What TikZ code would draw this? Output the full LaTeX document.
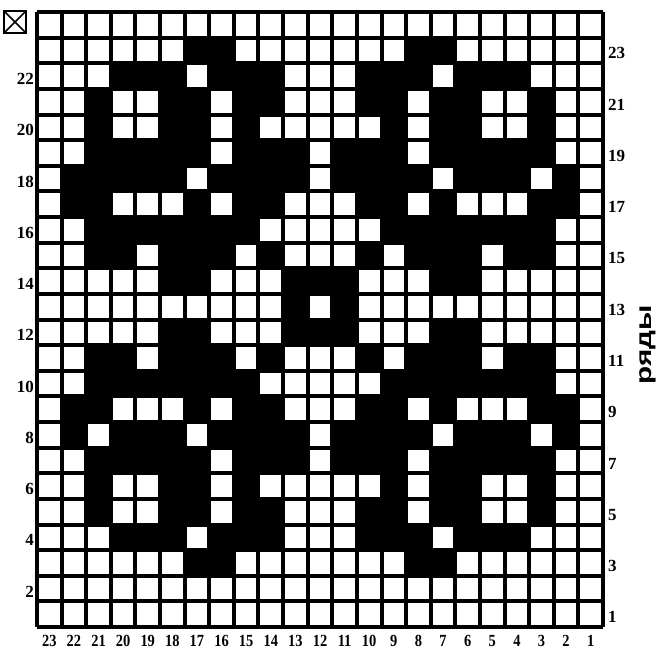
\documentclass[tikz,border=0pt]{standalone}
\usepackage{fontspec}
\setmainfont{Liberation Serif}
\newfontfamily\rowsfont{Liberation Sans}
\newcommand\gx{37}
\newcommand\gy{-12}
\newcommand\cw{24.609}
\newcommand\rh{25.625}
\newcommand\blackrow[2]{%
  \foreach \c in {#2} {%
    \fill[cellfill] ({\gx+(\c-1)*\cw},{\gy-(24-#1)*\rh}) rectangle ++(\cw,-\rh);
  }%
}
\begin{document}
\begin{tikzpicture}[x=1pt,y=1pt,
  cellfill/.style={fill=black},
  gridline/.style={line width=4pt,draw=black,line cap=square},
  lbl/.style={font=\fontsize{17}{17}\selectfont\bfseries,inner sep=0pt,text=black}]
\useasboundingbox (0,0) rectangle (662,-653);
\fill[white] (0,0) rectangle (662,-653);
% black cells (column 1 = left, row 1 = bottom)
\blackrow{23}{7,8,16,17}
\blackrow{22}{4,5,6,8,9,10,14,15,16,18,19,20}
\blackrow{21}{3,6,7,9,10,14,15,17,18,21}
\blackrow{20}{3,6,7,9,15,17,18,21}
\blackrow{19}{3,4,5,6,7,9,10,11,13,14,15,17,18,19,20,21}
\blackrow{18}{2,3,4,5,6,8,9,10,11,13,14,15,16,18,19,20,22}
\blackrow{17}{2,3,7,9,10,14,15,17,21,22}
\blackrow{16}{3,4,5,6,7,8,9,15,16,17,18,19,20,21}
\blackrow{15}{3,4,6,7,8,10,14,16,17,18,20,21}
\blackrow{14}{6,7,11,12,13,17,18}
\blackrow{13}{11,13}
\blackrow{12}{6,7,11,12,13,17,18}
\blackrow{11}{3,4,6,7,8,10,14,16,17,18,20,21}
\blackrow{10}{3,4,5,6,7,8,9,15,16,17,18,19,20,21}
\blackrow{9}{2,3,7,9,10,14,15,17,21,22}
\blackrow{8}{2,4,5,6,8,9,10,11,13,14,15,16,18,19,20,22}
\blackrow{7}{3,4,5,6,7,9,10,11,13,14,15,17,18,19,20,21}
\blackrow{6}{3,6,7,9,15,17,18,21}
\blackrow{5}{3,6,7,9,10,14,15,17,18,21}
\blackrow{4}{4,5,6,8,9,10,14,15,16,18,19,20}
\blackrow{3}{7,8,16,17}
% grid lines
\foreach \i in {0,...,23} {
  \draw[gridline] ({\gx+\i*\cw},\gy) -- ({\gx+\i*\cw},{\gy-24*\rh});
}
\foreach \j in {0,...,24} {
  \draw[gridline] (\gx,{\gy-\j*\rh}) -- ({\gx+23*\cw},{\gy-\j*\rh});
}
% crossed box at top left
\draw[line width=2pt] (4,-11) rectangle (26,-33);
\draw[line width=1.5pt] (4,-11) -- (26,-33) (4,-33) -- (26,-11);
% row labels
\foreach \r in {2,4,...,22} {
  \node[lbl,anchor=east] (L\r) at (34,{\gy-(24-\r)*\rh-\rh/2-3}) {\r};
}
\foreach \r in {1,3,...,23} {
  \node[lbl,anchor=west] (R\r) at (608,{\gy-(24-\r)*\rh-\rh/2-3}) {\r};
}
% column labels
\foreach \c in {1,...,23} {
  \pgfmathtruncatemacro\colnum{24-\c}
  \node[lbl] (B\c) at ({\gx+(\c-0.5)*\cw},-641) {\scalebox{0.85}[1]{\colnum}};
}
\node[rotate=90,inner sep=0pt,font=\rowsfont\fontsize{22}{22}\selectfont\bfseries] (rows) at (648,-345) {\scalebox{1.35}[1]{ряды}};
\end{tikzpicture}
\end{document}
